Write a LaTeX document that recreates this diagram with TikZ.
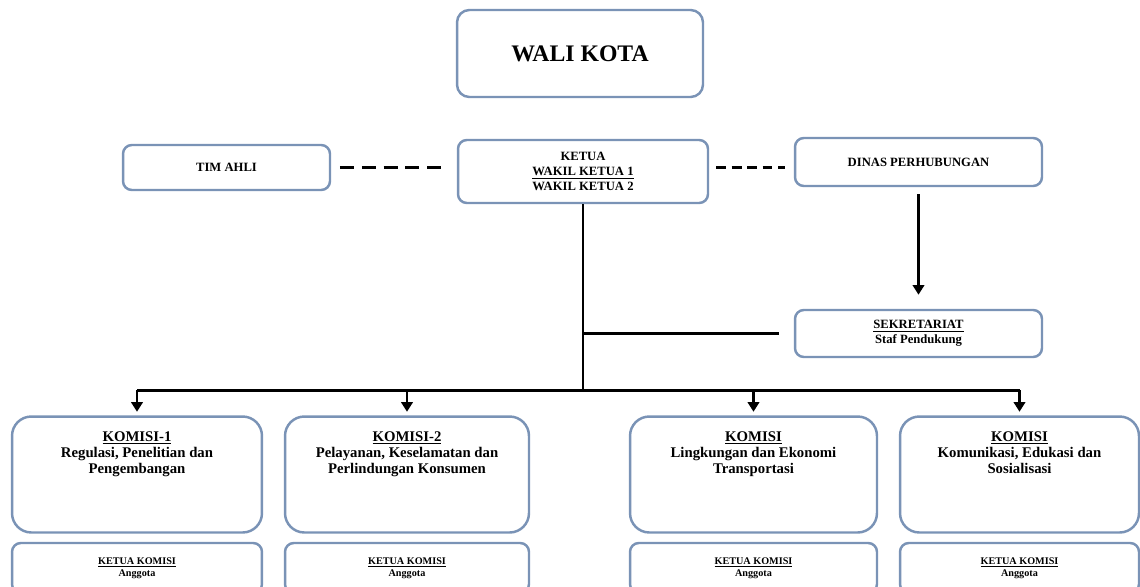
\documentclass[tikz,border=0pt]{standalone}
\usepackage{fontspec}
\setmainfont{Liberation Serif}
\usetikzlibrary{arrows.meta,positioning}
\definecolor{boxline}{RGB}{122,147,182}
\tikzset{
  unit/.style={draw=boxline,line width=1.4pt,rounded corners=5pt,fill=white,
    align=center,inner sep=0pt,font=\bfseries\fontsize{7.2}{8.6}\selectfont},
  bigunit/.style={unit,rounded corners=11pt},
  smallunit/.style={unit,font=\bfseries\fontsize{5.8}{6.8}\selectfont},
  komtext/.style={align=center,inner sep=0pt,anchor=north,
    font=\bfseries\fontsize{8.4}{9.3}\selectfont},
  link/.style={line width=1.7pt},
  dashlink/.style={link,dash pattern=on 8pt off 4.4pt},
  arrowlink/.style={link,-{Triangle[length=5.5pt,width=6.5pt]}}
}
\begin{document}
\begin{tikzpicture}[x=0.02cm,y=-0.02cm]
  \clip (0,0) rectangle (1140,586);

  % top level
  \node[bigunit,rounded corners=7pt,minimum width=4.92cm,minimum height=1.74cm,
    font=\bfseries\fontsize{13.5}{16}\selectfont] (walikota) at (580,53.5) {WALI KOTA};

  \node[unit,minimum width=5cm,minimum height=1.26cm] (ketua) at (583,171.5)
    {KETUA\\\underline{WAKIL KETUA 1}\\WAKIL KETUA 2};
  \node[unit,minimum width=4.14cm,minimum height=0.9cm] (timahli) at (226.5,167.5) {TIM AHLI};
  \node[unit,minimum width=4.94cm,minimum height=0.96cm] (dinas) at (918.5,162) {DINAS PERHUBUNGAN};
  \node[unit,minimum width=4.94cm,minimum height=0.94cm] (sekretariat) at (918.5,333.5)
    {\underline{SEKRETARIAT}\\Staf Pendukung};

  % komisi
  \node[bigunit,minimum width=5cm,minimum height=2.32cm] (komisiA) at (137,474.5) {};
  \node[bigunit,minimum width=4.88cm,minimum height=2.32cm] (komisiB) at (407,474.5) {};
  \node[bigunit,minimum width=4.94cm,minimum height=2.32cm] (komisiC) at (753.5,474.5) {};
  \node[bigunit,minimum width=4.78cm,minimum height=2.32cm] (komisiD) at (1019.5,474.5) {};

  \node[komtext] (textA) at ([yshift=-9pt]komisiA.north)
    {\underline{KOMISI-1}\\Regulasi, Penelitian dan\\Pengembangan};
  \node[komtext] (textB) at ([yshift=-9pt]komisiB.north)
    {\underline{KOMISI-2}\\Pelayanan, Keselamatan dan\\Perlindungan Konsumen};
  \node[komtext] (textC) at ([yshift=-9pt]komisiC.north)
    {\underline{KOMISI}\\Lingkungan dan Ekonomi\\Transportasi};
  \node[komtext] (textD) at ([yshift=-9pt]komisiD.north)
    {\underline{KOMISI}\\Komunikasi, Edukasi dan\\Sosialisasi};

  \foreach \k/\w in {A/5cm,B/4.88cm,C/4.94cm,D/4.78cm}{
    \node[smallunit,minimum width=\w,minimum height=1cm] (ketua\k) at (komisi\k |- 0,568)
      {\underline{KETUA KOMISI}\\Anggota};
  }

  % connectors
  \coordinate (dashy) at (0,167);
  \draw[dashlink,shorten <=5pt,shorten >=5pt] (timahli.east |- dashy) -- (ketua.west |- dashy);
  \draw[dashlink,dash pattern=on 5.6pt off 3.2pt,shorten <=4pt,shorten >=5pt]
    (ketua.east |- dashy) -- (dinas.west |- dashy);
  \draw[arrowlink,shorten <=4pt,shorten >=8pt] (dinas) -- (sekretariat);

  \coordinate (bus) at (583,390);
  \draw[link] (ketua.south) -- (bus);
  \draw[link,shorten >=8.5pt] (ketua.south |- sekretariat.west) -- (sekretariat.west);
  \draw[link] (komisiA.north |- bus) -- (komisiD.north |- bus);
  \foreach \k in {A,B,C,D}{
    \draw[arrowlink,shorten >=2pt] (komisi\k.north |- bus) -- (komisi\k.north);
  }
\end{tikzpicture}
\end{document}
